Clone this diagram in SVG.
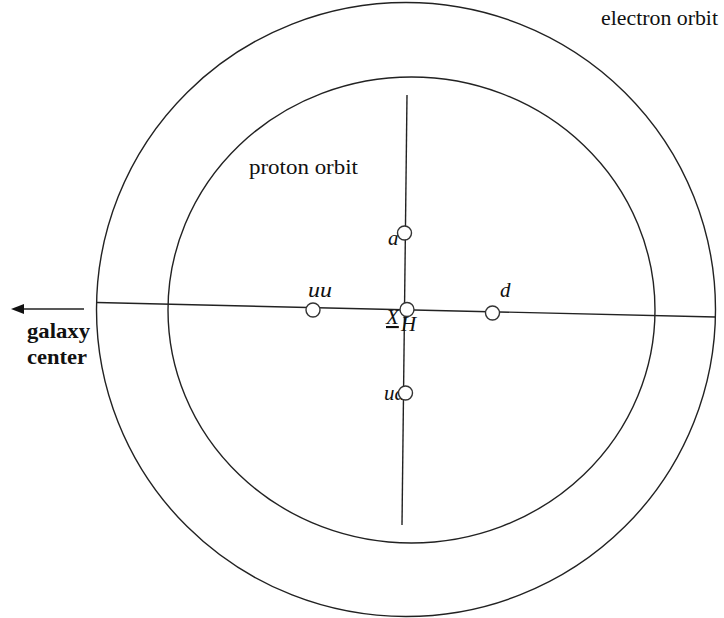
<svg xmlns="http://www.w3.org/2000/svg" width="724" height="618" viewBox="0 0 724 618">
<style>
.ln{stroke:#222;stroke-width:1.4;fill:none}
.q{fill:#fff;stroke:#333;stroke-width:1.4}
.t{font-family:'Liberation Serif','Times New Roman','DejaVu Serif',serif;font-size:21px;fill:#111}
.i{font-family:'Liberation Serif','Times New Roman','DejaVu Serif',serif;font-size:21px;font-style:italic;fill:#111}
.b{font-family:'Liberation Serif','Times New Roman','DejaVu Serif',serif;font-size:21px;font-weight:bold;fill:#111}
</style>
<rect width="724" height="618" fill="#fff"/>
<g id="electron-orbit"><ellipse class="ln" cx="406" cy="309.5" rx="309.5" ry="307"/></g>
<g id="proton-orbit"><ellipse class="ln" cx="411.5" cy="310" rx="243.5" ry="233"/></g>
<g id="connectors">
<line class="ln" x1="97" y1="302.5" x2="715.5" y2="317"/>
<line class="ln" x1="407" y1="95" x2="402" y2="525"/>
<line class="ln" x1="84" y1="309" x2="20" y2="309"/>
<path d="M11,309 L24,304 L24,314 Z" fill="#111"/>
</g>
<g id="label-electron"><text class="t" x="601" y="25" textLength="117" lengthAdjust="spacingAndGlyphs">electron orbit</text></g>
<g id="label-proton"><text class="t" x="249" y="174" textLength="109" lengthAdjust="spacingAndGlyphs">proton orbit</text></g>
<g id="label-galaxy"><text class="b" x="27" y="338" textLength="63" lengthAdjust="spacingAndGlyphs">galaxy</text><text class="b" x="27" y="364" textLength="60" lengthAdjust="spacingAndGlyphs">center</text></g>
<g id="node-ua"><text class="i" x="384" y="400">ua</text><circle class="q" cx="405.5" cy="393" r="7"/></g>
<g id="node-a"><circle class="q" cx="404.5" cy="233" r="7"/><text class="i" x="388" y="245">a</text></g>
<g id="node-uu"><circle class="q" cx="313" cy="310" r="7"/><text class="i" x="308" y="297" textLength="24" lengthAdjust="spacingAndGlyphs">uu</text></g>
<g id="node-d"><circle class="q" cx="492.5" cy="313" r="7"/><text class="i" x="500" y="297">d</text></g>
<g id="node-xh"><circle class="q" cx="407" cy="309.5" r="7"/><text class="i" x="386" y="324" font-size="19" text-decoration="underline">X</text><text class="i" x="401" y="331" font-size="18">H</text></g>
</svg>
